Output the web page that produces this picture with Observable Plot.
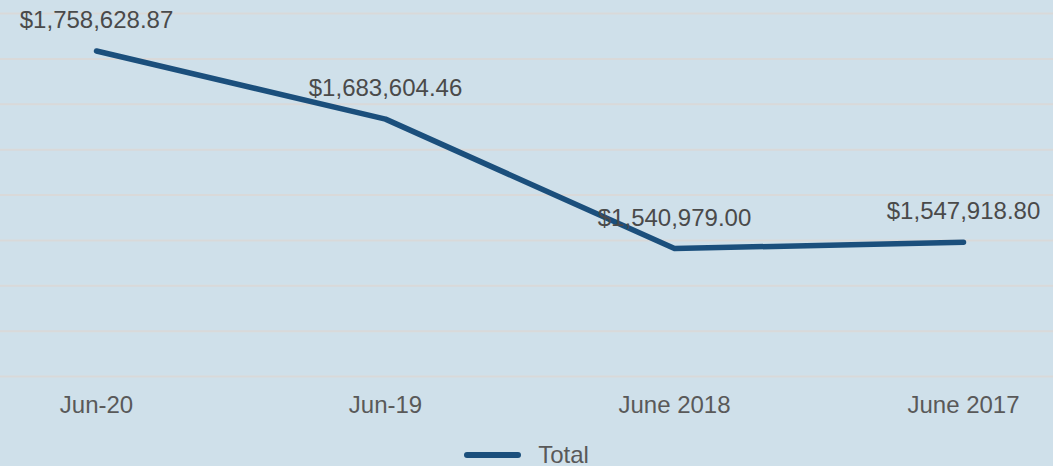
<!DOCTYPE html>
<html>
<head>
<meta charset="utf-8">
<script src="https://cdn.jsdelivr.net/npm/d3@7"></script>
<script src="https://cdn.jsdelivr.net/npm/@observablehq/plot@0.6"></script>
<style>
  html, body { margin: 0; padding: 0; background: #cfe0ea; width: 1053px; height: 466px; overflow: hidden; }
  body { position: relative; font-family: "Liberation Sans", Arial, sans-serif; }
  #chart svg { display: block; background: #cfe0ea; }
  #legend { position: absolute; left: 0; top: 437px; width: 1053px; height: 36px; display: flex; justify-content: center; align-items: center; gap: 17px; font-size: 24px; color: #595959; }
</style>
</head>
<body>
<div id="chart"></div>
<div id="legend"></div>
<script>
const categories = ["Jun-20", "Jun-19", "June 2018", "June 2017"];
const totals = [1758628.87, 1683604.46, 1540979.00, 1547918.80];
const yTicks = [1400000, 1450000, 1500000, 1550000, 1600000, 1650000, 1700000, 1750000, 1800000];
const seriesName = "Total";

const lineColor = "#1b4f7c";
const data = categories.map((c, i) => ({period: c, value: totals[i]}));
const fmt = d3.format("$,.2f");

const chart = Plot.plot({
  width: 1053,
  height: 430,
  marginLeft: 0,
  marginRight: 0,
  marginTop: 13,
  marginBottom: 54,
  style: {background: "#cfe0ea", fontFamily: "'Liberation Sans', Arial, sans-serif", fontSize: "24px", color: "#595959"},
  x: {type: "point", domain: categories, range: [95, 963], padding: 0, label: null},
  y: {domain: [1400000, 1800000], label: null, axis: null},
  marks: [
    Plot.ruleY(yTicks, {stroke: "#d9d9d9", strokeWidth: 2}),
    Plot.axisX({tickSize: 0, tickPadding: 19, fontSize: 24, fill: "#595959", label: null}),
    Plot.line(data, {x: "period", y: "value", stroke: lineColor, strokeWidth: 5.5, strokeLinecap: "round", strokeLinejoin: "round"}),
    Plot.text(data, {x: "period", y: "value", text: d => fmt(d.value), dy: -23, lineAnchor: "bottom", fontSize: 24, fill: "#4a4a4a"})
  ]
});
document.getElementById("chart").appendChild(chart);

const legend = document.getElementById("legend");
legend.innerHTML = `<svg width="57" height="8"><line x1="3" y1="4" x2="54" y2="4" stroke="${lineColor}" stroke-width="6" stroke-linecap="round"/></svg><span>${seriesName}</span>`;
</script>
</body>
</html>
